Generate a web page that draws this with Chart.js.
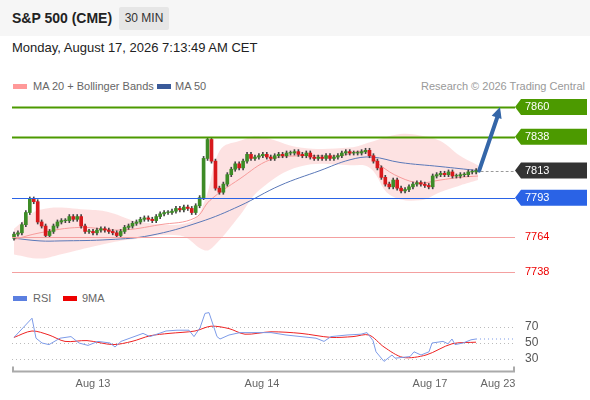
<!DOCTYPE html>
<html><head><meta charset="utf-8">
<script src="https://cdn.jsdelivr.net/npm/chart.js@4.4.1/dist/chart.umd.min.js"></script>
<style>
body{margin:0;width:590px;height:400px;background:#fff;font-family:"Liberation Sans",Arial,sans-serif;position:relative;overflow:hidden}
.hdr{position:absolute;left:0;top:0;width:590px;height:36px;background:#f6f6f6}
.t{position:absolute;white-space:nowrap}
#c1{position:absolute;left:0;top:95px}
#c2{position:absolute;left:0;top:300px}
.lg{position:absolute;width:14px;height:5px}
</style></head><body>
<div class="hdr"></div>
<div class="t" style="left:12px;top:10px;font-size:14px;font-weight:bold;color:#222">S&amp;P 500 (CME)</div>
<div class="t" style="left:119px;top:7px;width:50px;height:23px;background:#e6e6e6;border-radius:2px;font-size:12px;color:#333;text-align:center;line-height:23px">30 MIN</div>
<div class="t" style="left:12px;top:40px;font-size:13px;color:#222">Monday, August 17, 2026 7:13:49 AM CET</div>
<div class="lg" style="left:13px;top:84px;background:#f99"></div>
<div class="t" style="left:33px;top:80px;font-size:11px;color:#666">MA 20 + Bollinger Bands</div>
<div class="lg" style="left:157px;top:84px;background:#3a5a9a"></div>
<div class="t" style="left:175px;top:80px;font-size:11px;color:#666">MA 50</div>
<div class="t" style="right:5px;top:80px;font-size:11px;color:#999">Research © 2026 Trading Central</div>
<div class="lg" style="left:13px;top:296px;background:#5b7fe0"></div>
<div class="t" style="left:33px;top:292px;font-size:11px;color:#666">RSI</div>
<div class="lg" style="left:63px;top:296px;background:#e00"></div>
<div class="t" style="left:82px;top:292px;font-size:11px;color:#666">9MA</div>
<canvas id="c1" width="590" height="190"></canvas>
<canvas id="c2" width="590" height="100"></canvas>
<script>
const closes=[7766,7767,7773,7782,7792,7790,7775,7772,7765,7768,7772,7775,7776,7776,7779,7777,7779,7772,7768,7768,7767,7769,7770,7769,7768,7767,7765,7768,7771,7772,7774,7775,7777,7778,7777,7776,7779,7781,7782,7782,7783,7785,7784,7786,7785,7782,7787,7793,7822,7836,7820,7800,7797,7803,7810,7814,7818,7815,7820,7825,7822,7823,7824,7825,7823,7822,7824,7825,7824,7826,7826,7827,7825,7824,7826,7823,7822,7823,7822,7824,7822,7823,7824,7826,7827,7826,7826,7826,7827,7828,7824,7820,7815,7808,7803,7801,7806,7800,7798,7799,7801,7803,7804,7803,7802,7801,7809,7810,7811,7810,7812,7809,7809,7810,7810,7812,7812,7813];
const firstOpen=7763;
const ma20=[[14,7762],[40,7767],[80,7771],[120,7769],[160,7773],[195,7778],[210,7791],[240,7807],[270,7821],[300,7824],[340,7824],[365,7827],[380,7817],[400,7808],[420,7804],[440,7806],[460,7808],[478,7809]];
const ma50=[[14,7763],[40,7761],[60,7761],[110,7762],[150,7765],[200,7775],[240,7787],[280,7802],[320,7813],[350,7821],[372,7823],[400,7819],[440,7816],[478,7813]];
const bbUpper=[[14,7770],[40,7784],[90,7784],[110,7782],[140,7775],[190,7775],[205,7791],[220,7828],[240,7835],[260,7838],[300,7830],[350,7830],[370,7834],[400,7840],[420,7839],[440,7835],[460,7824],[478,7817]];
const bbLower=[[14,7751],[40,7748],[60,7751],[100,7758],[130,7762],[180,7765],[205,7754],[215,7758],[240,7780],[260,7799],[300,7816],[350,7817],[370,7815],[390,7795],[420,7791],[440,7797],[460,7802],[478,7806]];
const rsi=[[14,57],[32,81],[36,56],[42,50],[49,48],[60,56],[71,58],[79,50],[88,47],[98,52],[110,50],[115,45],[121,52],[132,57],[143,62],[150,58],[166,65],[177,66],[189,66],[194,58],[200,69],[205,87],[209,88],[217,58],[220,55],[229,60],[240,63],[256,63],[271,63],[286,60],[301,58],[316,56],[324,52],[331,58],[347,60],[361,61],[367,63],[373,53],[376,39],[384,27],[392,35],[395,31],[410,33],[414,39],[421,35],[429,39],[432,50],[443,52],[448,49],[452,55],[455,48],[463,50],[471,54],[476,55]];
const rsi9=[[14,57],[32,65],[49,60],[65,52],[87,53],[113,48],[132,52],[150,59],[169,62],[195,65],[211,71],[229,68],[245,61],[271,64],[301,62],[331,57],[353,58],[369,60],[384,45],[403,32],[426,35],[452,49],[476,51]];
const levels=[7860,7838,7793,7764,7738];
const current=7813;
const dateLabels=["Aug 13","Aug 14","Aug 17","Aug 23"];
const datePx=[93,262,430,498];

const S=3.95, X0=14;
const toI=px=>(px-X0)/S;
const pts=a=>a.map(p=>({x:toI(p[0]),y:p[1]}));
const opens=closes.map((c,i)=>i?closes[i-1]:firstOpen);
const XMIN=toI(12), XMAX=toI(515);
const up='#3d8b26', dn='#d7191c';
const body=closes.map((c,i)=>({x:i,y:[opens[i],c===opens[i]?c+0.4:c]}));
const wick=closes.map((c,i)=>({x:i,y:[Math.min(opens[i],c)-1.5,Math.max(opens[i],c)+1.5]}));
const cols=closes.map((c,i)=>c>=opens[i]?up:dn);
const lastI=closes.length-1, arrowI=toI(500);

const over={id:'over',afterDatasetsDraw(ch){
 const c=ch.ctx,x=ch.scales.x,y=ch.scales.y;
 const L=x.getPixelForValue(XMIN),R=x.getPixelForValue(XMAX);
 const st=[['#4c9a00',2],['#4c9a00',2],['#2a63e6',1.2],['#f4a0a0',1],['#f4a0a0',1]];
 levels.forEach((v,k)=>{const py=Math.round(y.getPixelForValue(v))+0.5;c.strokeStyle=st[k][0];c.lineWidth=st[k][1];c.beginPath();c.moveTo(L,py);c.lineTo(R,py);c.stroke();});
 const ax=x.getPixelForValue(lastI)+3,ay=y.getPixelForValue(current),bx=x.getPixelForValue(arrowI),by=y.getPixelForValue(levels[0]);
 c.strokeStyle='#3466a8';c.lineWidth=4;c.lineCap='round';c.beginPath();c.moveTo(ax,ay);c.lineTo(bx-2,by+8);c.stroke();
 const ang=Math.atan2(by-ay,bx-ax);c.fillStyle='#3466a8';c.beginPath();c.moveTo(bx,by);
 c.lineTo(bx-12*Math.cos(ang-0.45),by-12*Math.sin(ang-0.45));c.lineTo(bx-12*Math.cos(ang+0.45),by-12*Math.sin(ang+0.45));c.fill();
 const cy=Math.round(y.getPixelForValue(current))+0.5;c.setLineDash([2,3]);c.strokeStyle='#999';c.lineWidth=1;c.beginPath();c.moveTo(ax+2,cy);c.lineTo(R,cy);c.stroke();c.setLineDash([]);
 c.font='11px "Liberation Sans",Arial';c.textBaseline='middle';
 const tag=(v,bg)=>{const py=y.getPixelForValue(v);c.fillStyle=bg;c.beginPath();c.moveTo(R,py);c.lineTo(R+6,py-8);c.lineTo(587,py-8);c.lineTo(587,py+8);c.lineTo(R+6,py+8);c.fill();c.fillStyle='#fff';c.fillText(String(v),525,py);};
 tag(levels[0],'#4c9a00');tag(levels[1],'#4c9a00');tag(current,'#333');tag(levels[2],'#2a63e6');
 c.fillStyle='#e00';c.fillText(String(levels[3]),525,y.getPixelForValue(levels[3]));c.fillText(String(levels[4]),525,y.getPixelForValue(levels[4]));
}};
const lay={padding:{left:12,right:75,top:0,bottom:0}};
const xs={type:'linear',min:XMIN,max:XMAX,display:false,offset:false};
new Chart(document.getElementById('c1'),{
 data:{datasets:[
  {type:'line',data:pts(bbUpper),borderWidth:0,pointRadius:0,tension:0.4,fill:'+1',backgroundColor:'rgba(250,190,190,0.45)',order:5},
  {type:'line',data:pts(bbLower),borderWidth:0,pointRadius:0,tension:0.4,fill:false,order:5},
  {type:'line',data:pts(ma20),borderColor:'#f79a9a',borderWidth:1,pointRadius:0,tension:0.4,order:3},
  {type:'line',data:pts(ma50),borderColor:'#5a78b8',borderWidth:1,pointRadius:0,tension:0.4,order:3},
  {type:'bar',data:wick,backgroundColor:'#444',barThickness:1,grouped:false,order:2},
  {type:'bar',data:body,backgroundColor:cols,barThickness:3,grouped:false,order:1}
 ]},
 options:{animation:false,responsive:false,layout:lay,plugins:{legend:{display:false},tooltip:{enabled:false}},
  scales:{x:xs,y:{min:7728.4,max:7868.9,display:false}}},
 plugins:[over]});

const axp={id:'axp',beforeDatasetsDraw(ch){
 const c=ch.ctx,x=ch.scales.x,y=ch.scales.y;const L=x.getPixelForValue(XMIN),R=x.getPixelForValue(XMAX);
 c.setLineDash([1,3]);c.strokeStyle='#bbb';c.lineWidth=1;
 [70,50,30].forEach(v=>{const py=Math.round(y.getPixelForValue(v))+0.5;c.beginPath();c.moveTo(L,py);c.lineTo(R,py);c.stroke();});
 const lp=x.getPixelForValue(toI(rsi[rsi.length-1][0]));
 const ly=y.getPixelForValue(rsi[rsi.length-1][1]);c.strokeStyle='#7d9be8';c.beginPath();c.moveTo(lp,ly);c.lineTo(R,ly);c.stroke();
 c.setLineDash([]);
 c.fillStyle='#555';c.font='12px "Liberation Sans",Arial';c.textBaseline='middle';
 [70,50,30].forEach(v=>c.fillText(String(v),525,y.getPixelForValue(v)));
 const ab=ch.chartArea.bottom+1.5;c.strokeStyle='#aaa';c.lineWidth=2;c.beginPath();c.moveTo(L+1,ab-5);c.lineTo(L+1,ab);c.lineTo(R-1,ab);c.lineTo(R-1,ab-5);c.stroke();
 c.fillStyle='#666';c.font='11px "Liberation Sans",Arial';c.textAlign='center';
 dateLabels.forEach((t,k)=>c.fillText(t,x.getPixelForValue(toI(datePx[k])),ab+12));c.textAlign='left';
}};
new Chart(document.getElementById('c2'),{
 data:{datasets:[
  {type:'line',data:pts(rsi),borderColor:'#7d9be8',borderWidth:1,pointRadius:0,tension:0},
  {type:'line',data:pts(rsi9),borderColor:'#ee2222',borderWidth:1,pointRadius:0,tension:0.3}
 ]},
 options:{animation:false,responsive:false,layout:{padding:{left:12,right:75,top:10,bottom:30}},plugins:{legend:{display:false},tooltip:{enabled:false}},
  scales:{x:xs,y:{min:16.25,max:91.25,display:false}}},
 plugins:[axp]});
</script></body></html>
